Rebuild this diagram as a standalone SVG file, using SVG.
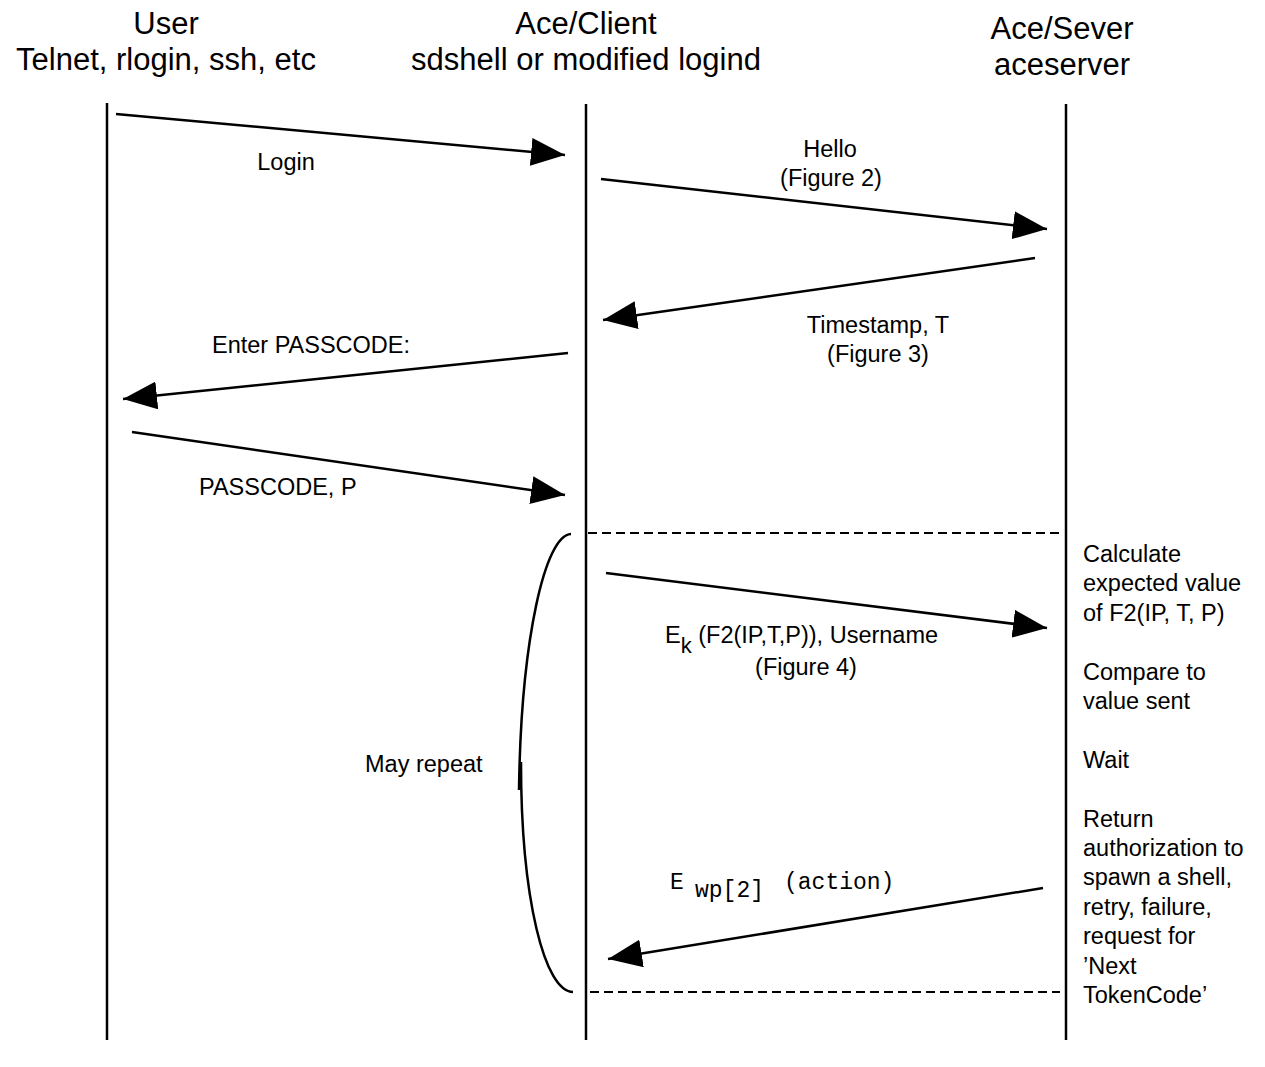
<svg xmlns="http://www.w3.org/2000/svg" width="1265" height="1067" viewBox="0 0 1265 1067">
<style>
.hdr{font-family:"Liberation Sans",Arial,sans-serif;font-size:31px;fill:#000;text-anchor:middle}
.lbl{font-family:"Liberation Sans",Arial,sans-serif;font-size:23.5px;fill:#000}
.mid{text-anchor:middle}
.mono{font-family:"Liberation Mono","Courier New",monospace;font-size:23px;fill:#000}
.life{stroke:#000;stroke-width:2.5;fill:none}
.msg{stroke:#000;stroke-width:2.5;fill:none;marker-end:url(#ah)}
.dash{stroke:#000;stroke-width:2;stroke-dasharray:9 5;fill:none}
.brace{stroke:#000;stroke-width:2.5;fill:none}
</style>
<defs>
<marker id="ah" viewBox="0 0 34 28" refX="34" refY="14" markerWidth="34" markerHeight="28" markerUnits="userSpaceOnUse" orient="auto">
<path d="M0,0 L34,14 L0,28 Z" fill="#000"/>
</marker>
</defs>
<rect width="1265" height="1067" fill="#fff"/>
<g id="user">
<text class="hdr" x="166" y="34">User</text>
<text class="hdr" x="166" y="70">Telnet, rlogin, ssh, etc</text>
<line class="life" x1="107" y1="103" x2="107" y2="1040"/>
</g>
<g id="client">
<text class="hdr" x="586" y="34">Ace/Client</text>
<text class="hdr" x="586" y="70">sdshell or modified logind</text>
<line class="life" x1="586" y1="104" x2="586" y2="1040"/>
</g>
<g id="server">
<text class="hdr" x="1062" y="39">Ace/Sever</text>
<text class="hdr" x="1062" y="75">aceserver</text>
<line class="life" x1="1066" y1="104" x2="1066" y2="1040"/>
<text class="lbl" x="1083" y="562">Calculate</text>
<text class="lbl" x="1083" y="591.4">expected value</text>
<text class="lbl" x="1083" y="620.8">of F2(IP, T, P)</text>
<text class="lbl" x="1083" y="679.6">Compare to</text>
<text class="lbl" x="1083" y="709">value sent</text>
<text class="lbl" x="1083" y="767.8">Wait</text>
<text class="lbl" x="1083" y="826.6">Return</text>
<text class="lbl" x="1083" y="856">authorization to</text>
<text class="lbl" x="1083" y="885.4">spawn a shell,</text>
<text class="lbl" x="1083" y="914.8">retry, failure,</text>
<text class="lbl" x="1083" y="944.2">request for</text>
<text class="lbl" x="1083" y="973.6">’Next</text>
<text class="lbl" x="1083" y="1003">TokenCode’</text>
</g>
<g id="repeat">
<path class="brace" d="M571,534 C545,535 521,640 519,790"/>
<path class="brace" d="M521,762 C521,900 545,992 573,992"/>
<text class="lbl" x="365" y="772">May repeat</text>
</g>
<g id="connectors">
<line class="msg" x1="116" y1="114" x2="565" y2="155"/>
<line class="msg" x1="601" y1="179" x2="1047" y2="229"/>
<line class="msg" x1="1035" y1="258" x2="603" y2="320"/>
<line class="msg" x1="568" y1="353" x2="123" y2="399"/>
<line class="msg" x1="132" y1="432" x2="565" y2="495"/>
<line class="msg" x1="606" y1="573" x2="1047" y2="628"/>
<line class="msg" x1="1043" y1="888" x2="608" y2="959"/>
<line class="dash" x1="588" y1="533" x2="1060" y2="533"/>
<line class="dash" x1="590" y1="992" x2="1060" y2="992"/>
</g>
<g id="labels">
<text class="lbl mid" x="286" y="170">Login</text>
<text class="lbl mid" x="830" y="157">Hello</text>
<text class="lbl mid" x="831" y="186">(Figure 2)</text>
<text class="lbl mid" x="878" y="333">Timestamp, T</text>
<text class="lbl mid" x="878" y="362">(Figure 3)</text>
<text class="lbl mid" x="311" y="353">Enter PASSCODE:</text>
<text class="lbl" x="199" y="495">PASSCODE, P</text>
<text class="lbl" x="665" y="643">E<tspan font-size="22px" dy="10">k</tspan><tspan dy="-10"> (F2(IP,T,P)), Username</tspan></text>
<text class="lbl mid" x="806" y="675">(Figure 4)</text>
<text class="mono" x="670" y="889">E</text>
<text class="mono" x="695" y="897">wp[2]</text>
<text class="mono" x="784" y="889">(action)</text>
</g>
</svg>
